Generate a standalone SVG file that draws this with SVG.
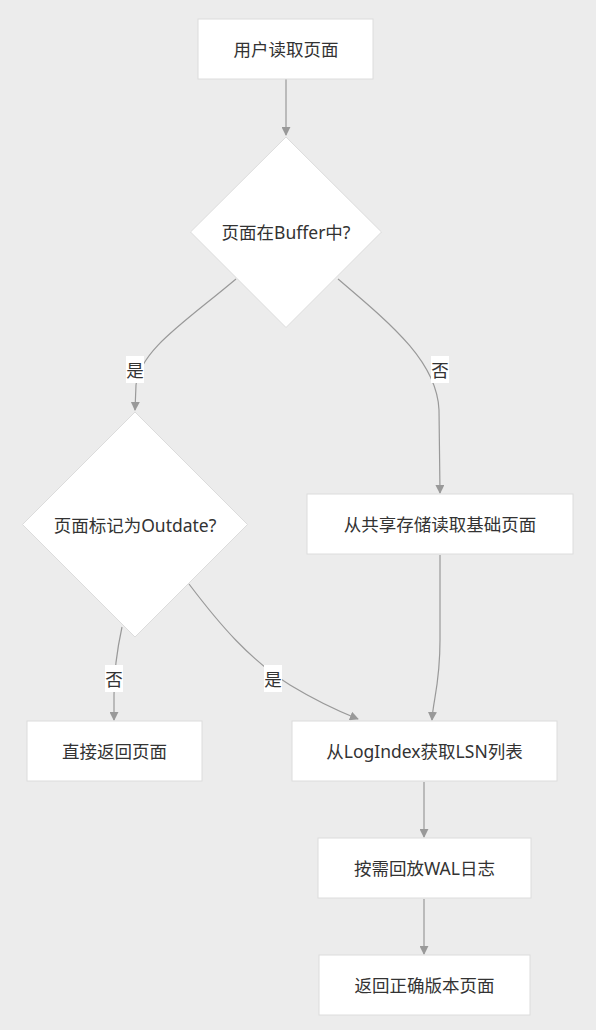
<svg xmlns="http://www.w3.org/2000/svg" width="596" height="1030" viewBox="0 0 596 1030">
<style>
.n{fill:#fff;stroke:#dcdcdc;stroke-width:1}
.t{font-family:"Noto Sans","Noto Sans CJK SC",sans-serif;font-size:17.5px;fill:#333;text-anchor:middle;dominant-baseline:central}
.e{fill:none;stroke:#999;stroke-width:1.2}
.lb{fill:#fff}
</style>
<defs>
<marker id="ah" viewBox="0 0 10 10" refX="9" refY="5" markerWidth="9" markerHeight="9" markerUnits="userSpaceOnUse" orient="auto">
<path d="M0,0 L10,5 L0,10 z" fill="#999"/>
</marker>
</defs>
<rect width="596" height="1030" fill="#ececec"/>
<g id="connectors">
<path class="e" d="M286,79 L286,135" marker-end="url(#ah)"/>
<path class="e" d="M236,279 C185,322 140,350 136,385 L135,410" marker-end="url(#ah)"/>
<path class="e" d="M338,279 C392,325 437,362 439,410 L440,493" marker-end="url(#ah)"/>
<path class="e" d="M122,627 C117,650 114,672 114,695 L114,720" marker-end="url(#ah)"/>
<path class="e" d="M189,584 C220,625 250,660 290,685 C318,702 338,711 358,719" marker-end="url(#ah)"/>
<path class="e" d="M440,555 L440,640 C440,685 433,700 432,720" marker-end="url(#ah)"/>
<path class="e" d="M424,782 L424,837" marker-end="url(#ah)"/>
<path class="e" d="M424,899 L424,954" marker-end="url(#ah)"/>
<g id="lbl1"><rect class="lb" x="126" y="356" width="18" height="27"/><text class="t" x="135" y="370">是</text></g>
<g id="lbl2"><rect class="lb" x="431" y="356" width="18" height="27"/><text class="t" x="440" y="370">否</text></g>
<g id="lbl3"><rect class="lb" x="105" y="665" width="18" height="27"/><text class="t" x="114" y="679">否</text></g>
<g id="lbl4"><rect class="lb" x="264" y="665" width="18" height="27"/><text class="t" x="273" y="679">是</text></g>
</g>
<g id="start"><rect class="n" x="198" y="19" width="175" height="60"/><text class="t" x="286" y="49">用户读取页面</text></g>
<g id="inBuffer"><polygon class="n" points="286,137 381.5,232 286,327.5 190.5,232"/><text class="t" x="286" y="232">页面在Buffer中?</text></g>
<g id="outdate"><polygon class="n" points="135,412 247.5,524.5 135,637 22.5,524.5"/><text class="t" x="135" y="525">页面标记为Outdate?</text></g>
<g id="readShared"><rect class="n" x="307" y="494" width="266" height="60"/><text class="t" x="440" y="524">从共享存储读取基础页面</text></g>
<g id="returnDirect"><rect class="n" x="27" y="721" width="175" height="60"/><text class="t" x="114.5" y="751">直接返回页面</text></g>
<g id="logIndex"><rect class="n" x="292" y="721" width="265" height="60"/><text class="t" x="424.5" y="751">从LogIndex获取LSN列表</text></g>
<g id="replay"><rect class="n" x="318" y="838" width="213" height="60"/><text class="t" x="424.5" y="868">按需回放WAL日志</text></g>
<g id="returnPage"><rect class="n" x="319" y="955" width="211" height="60"/><text class="t" x="424.5" y="985">返回正确版本页面</text></g>
</svg>
